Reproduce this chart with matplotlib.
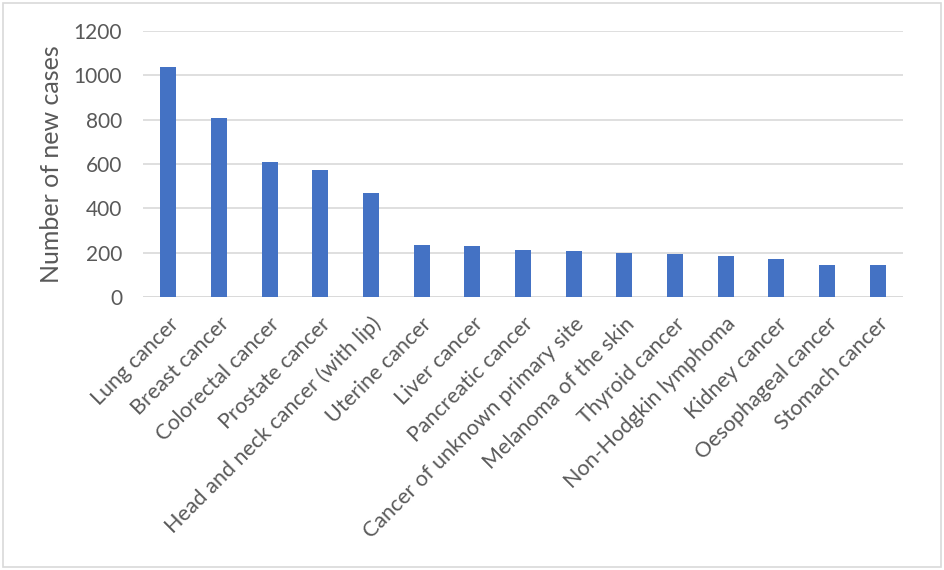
import matplotlib
matplotlib.use("Agg")
import matplotlib.pyplot as plt
from matplotlib.patches import Rectangle

categories = [
    "Lung cancer", "Breast cancer", "Colorectal cancer", "Prostate cancer",
    "Head and neck cancer (with lip)", "Uterine cancer", "Liver cancer",
    "Pancreatic cancer", "Cancer of unknown primary site",
    "Melanoma of the skin", "Thyroid cancer", "Non-Hodgkin lymphoma",
    "Kidney cancer", "Oesophageal cancer", "Stomach cancer",
]
new_cases = [1039, 808, 611, 572, 468, 234, 231, 212, 207, 199, 192, 186, 171, 146, 143]
y_ticks = [0, 200, 400, 600, 800, 1000, 1200]

plt.rcParams['font.family'] = ['Lato', 'DejaVu Sans']
text_color = '#595959'

fig = plt.figure(figsize=(9.44, 5.7), dpi=100)
ax = fig.add_axes([143 / 944, 1 - 297 / 570, 760 / 944, 266 / 570])

x = range(len(categories))
ax.bar(x, new_cases, width=0.31, color='#4472C4', zorder=3)

ax.set_xlim(-0.5, len(categories) - 0.5)
ax.set_ylim(0, 1200)
ax.set_yticks(y_ticks)
ax.set_yticklabels([str(v) for v in y_ticks], fontsize=15, color=text_color)
ax.grid(axis='y', color='#D9D9D9', linewidth=1.2, zorder=0)
ax.set_xticks(list(x))
ax.set_xticklabels(categories, rotation=45, ha='right', rotation_mode='anchor',
                   fontsize=15.5, color=text_color)
ax.tick_params(axis='y', length=0, pad=15)
ax.tick_params(axis='x', length=0, pad=12)
for s in ax.spines.values():
    s.set_visible(False)
ax.axhline(0, color='#D9D9D9', linewidth=1.2, zorder=2)

ax.set_ylabel("Number of new cases", fontsize=18, color=text_color, labelpad=8)

# outer chart border
fig.patches.append(Rectangle((3 / 944, 3 / 570), 938 / 944, 564 / 570,
                             transform=fig.transFigure, fill=False,
                             edgecolor='#D9D9D9', linewidth=1.2))

fig.savefig("out.png", dpi=100)
